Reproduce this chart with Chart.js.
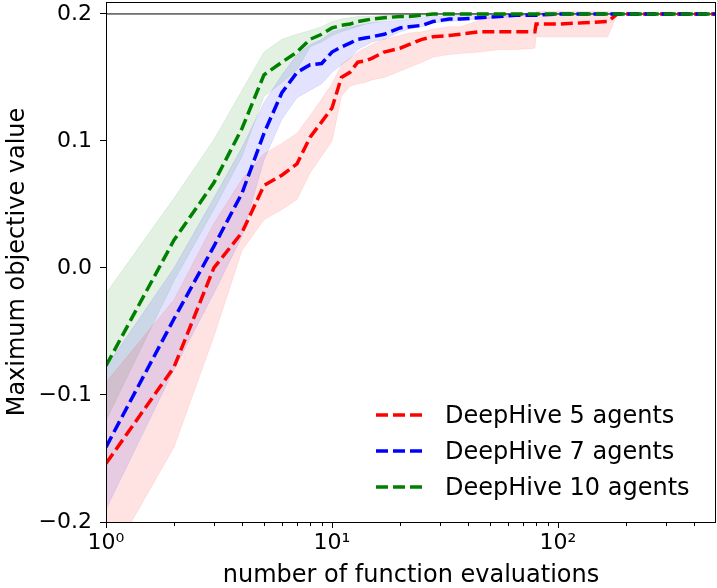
<!DOCTYPE html>
<html>
<head>
<meta charset="utf-8">
<script src="https://cdn.jsdelivr.net/npm/chart.js@4.4.1/dist/chart.umd.min.js"></script>
<style>
  body { margin: 0; background: #fff; }
  #wrap { position: relative; width: 717px; height: 588px; }
  #legend { position: absolute; left: 376px; top: 397px; font-family: "DejaVu Sans"; font-size: 24px; color: #000; }
  .row { height: 36px; display: flex; align-items: center; white-space: nowrap; }
  .row svg { margin-right: 19px; }
</style>
</head>
<body>
<div id="wrap">
  <canvas id="c"></canvas>
  <div id="legend"></div>
</div>
<script>
// number of function evaluations (x, log scale)
const evals = [1, 2, 3, 4, 5, 6, 7, 8, 9, 10, 11, 12, 13, 14, 15, 17, 20, 22, 25, 28, 33, 37, 45, 55, 65, 79, 80, 100, 130, 166, 183, 250, 350, 500];

// DeepHive 5 agents
const red5Mean = [-0.154, -0.078, 0.000, 0.028, 0.065, 0.073, 0.082, 0.103, 0.115, 0.126, 0.150, 0.154, 0.162, 0.163, 0.165, 0.170, 0.173, 0.176, 0.180, 0.182, 0.183, 0.184, 0.186, 0.186, 0.186, 0.186, 0.192, 0.192, 0.193, 0.194, 0.200, 0.200, 0.200, 0.200];
const red5Lo   = [-0.235, -0.141, -0.054, 0.014, 0.038, 0.046, 0.054, 0.075, 0.088, 0.100, 0.135, 0.143, 0.145, 0.146, 0.148, 0.150, 0.155, 0.158, 0.162, 0.166, 0.168, 0.169, 0.170, 0.172, 0.172, 0.173, 0.182, 0.182, 0.182, 0.182, 0.200, 0.200, 0.200, 0.200];
const red5Hi   = [-0.090, -0.025, 0.035, 0.070, 0.090, 0.098, 0.106, 0.120, 0.133, 0.145, 0.160, 0.165, 0.170, 0.173, 0.176, 0.180, 0.183, 0.185, 0.186, 0.188, 0.190, 0.190, 0.195, 0.200, 0.200, 0.200, 0.202, 0.202, 0.202, 0.202, 0.200, 0.200, 0.200, 0.200];

// DeepHive 7 agents
const blue7Mean = [-0.141, -0.040, 0.017, 0.059, 0.106, 0.138, 0.154, 0.160, 0.161, 0.170, 0.174, 0.177, 0.180, 0.181, 0.182, 0.184, 0.189, 0.190, 0.191, 0.194, 0.196, 0.196, 0.197, 0.198, 0.199, 0.199, 0.199, 0.200, 0.200, 0.200, 0.200, 0.200, 0.200, 0.200];
const blue7Lo   = [-0.190, -0.080, -0.020, 0.025, 0.085, 0.117, 0.134, 0.140, 0.145, 0.154, 0.160, 0.165, 0.172, 0.175, 0.178, 0.180, 0.186, 0.188, 0.190, 0.193, 0.194, 0.195, 0.196, 0.197, 0.198, 0.199, 0.199, 0.200, 0.200, 0.200, 0.200, 0.200, 0.200, 0.200];
const blue7Hi   = [-0.078, 0.000, 0.055, 0.095, 0.130, 0.152, 0.168, 0.176, 0.180, 0.186, 0.188, 0.190, 0.191, 0.192, 0.193, 0.194, 0.195, 0.196, 0.197, 0.198, 0.199, 0.199, 0.200, 0.200, 0.200, 0.200, 0.200, 0.200, 0.200, 0.200, 0.200, 0.200, 0.200, 0.200];

// DeepHive 10 agents
const green10Mean = [-0.077, 0.022, 0.067, 0.110, 0.152, 0.162, 0.170, 0.180, 0.184, 0.189, 0.191, 0.192, 0.194, 0.195, 0.196, 0.197, 0.198, 0.198, 0.199, 0.200, 0.200, 0.200, 0.200, 0.200, 0.200, 0.200, 0.200, 0.200, 0.200, 0.200, 0.200, 0.200, 0.200, 0.200];
const green10Lo   = [-0.120, -0.010, 0.046, 0.088, 0.135, 0.146, 0.156, 0.174, 0.178, 0.183, 0.186, 0.188, 0.190, 0.192, 0.193, 0.195, 0.196, 0.197, 0.198, 0.199, 0.200, 0.200, 0.200, 0.200, 0.200, 0.200, 0.200, 0.200, 0.200, 0.200, 0.200, 0.200, 0.200, 0.200];
const green10Hi   = [-0.020, 0.055, 0.101, 0.140, 0.170, 0.180, 0.184, 0.187, 0.190, 0.194, 0.196, 0.197, 0.198, 0.198, 0.198, 0.199, 0.199, 0.200, 0.200, 0.200, 0.200, 0.200, 0.200, 0.200, 0.200, 0.200, 0.200, 0.200, 0.200, 0.200, 0.200, 0.200, 0.200, 0.200];

// known optimum (horizontal reference line)
const optimum = 0.2;

const yTicks = [-0.2, -0.1, 0.0, 0.1, 0.2];
const xMajorTicks = [1, 10, 100];
const xTickLabels = ["10\u2070", "10\u00b9", "10\u00b2"];
const xMinorTicks = [2, 3, 4, 5, 6, 7, 8, 9, 20, 30, 40, 50, 60, 70, 80, 90, 200, 300, 400];

const series = [
  { label: "DeepHive 5 agents", color: "#ff0000", band: "rgba(255,0,0,0.11)", mean: red5Mean, lo: red5Lo, hi: red5Hi, order: 3 },
  { label: "DeepHive 7 agents", color: "#0000ff", band: "rgba(0,0,255,0.11)", mean: blue7Mean, lo: blue7Lo, hi: blue7Hi, order: 2 },
  { label: "DeepHive 10 agents", color: "#008000", band: "rgba(0,128,0,0.11)", mean: green10Mean, lo: green10Lo, hi: green10Hi, order: 1 }
];

function pts(vals) {
  return evals.map((x, i) => ({ x: x, y: vals[i] }));
}

const datasets = [];
series.forEach(s => {
  datasets.push({ data: pts(s.lo), borderWidth: 0.8, borderColor: s.band, pointRadius: 0, fill: false, order: 10 });
  datasets.push({ data: pts(s.hi), borderWidth: 0.8, borderColor: s.band, backgroundColor: s.band, pointRadius: 0, fill: "-1", order: 10 });
});
datasets.push({
  data: [{ x: evals[0], y: optimum }, { x: evals[evals.length - 1], y: optimum }],
  borderColor: "#000", borderWidth: 1, pointRadius: 0, fill: false, order: 5
});
series.forEach(s => {
  datasets.push({ label: s.label, data: pts(s.mean), borderColor: s.color, borderWidth: 3.5, borderDash: [12, 5], pointRadius: 0, fill: false, order: s.order });
});

// frame + minor ticks on the log axis
const framePlugin = {
  id: "frame",
  afterDraw(chart) {
    const ctx = chart.ctx, a = chart.chartArea, sx = chart.scales.x;
    ctx.save();
    ctx.strokeStyle = "#000";
    ctx.lineWidth = 1;
    ctx.strokeRect(a.left + 0.5, a.top + 0.5, a.right - a.left - 1, a.bottom - a.top);
    xMinorTicks.forEach(v => {
      const px = Math.round(sx.getPixelForValue(v)) + 0.5;
      ctx.beginPath();
      ctx.moveTo(px, a.bottom);
      ctx.lineTo(px, a.bottom + 4);
      ctx.stroke();
    });
    ctx.restore();
  }
};

const font = { family: "DejaVu Sans", size: 22 };

new Chart(document.getElementById("c"), {
  type: "line",
  data: { datasets: datasets },
  plugins: [framePlugin],
  options: {
    responsive: true,
    maintainAspectRatio: false,
    animation: false,
    layout: { padding: { top: 2, right: 1, left: 0, bottom: 0 } },
    plugins: { legend: { display: false }, tooltip: { enabled: false } },
    scales: {
      x: {
        type: "logarithmic",
        min: 1,
        max: 500,
        afterBuildTicks: scale => { scale.ticks = xMajorTicks.map(v => ({ value: v })); },
        afterFit: scale => { scale.height = 66; scale.paddingLeft = 0; scale.paddingRight = 0; },
        grid: { display: true, drawOnChartArea: false, drawTicks: true, tickLength: 6, tickColor: "#000" },
        border: { display: false },
        ticks: {
          autoSkip: false, maxRotation: 0, padding: 2, color: "#000", font: font,
          callback: v => xTickLabels[xMajorTicks.indexOf(v)]
        },
        title: { display: true, text: "number of function evaluations", color: "#000", font: { family: "DejaVu Sans", size: 24, lineHeight: 1 }, padding: 0 }
      },
      y: {
        type: "linear",
        min: -0.2,
        max: 0.2094,
        afterBuildTicks: scale => { scale.ticks = yTicks.map(v => ({ value: v })); },
        afterFit: scale => { scale.width = 106; scale.paddingTop = 0; scale.paddingBottom = 0; },
        grid: { display: true, drawOnChartArea: false, drawTicks: true, tickLength: 6, tickColor: "#000" },
        border: { display: false },
        ticks: {
          padding: 8, color: "#000", font: font,
          callback: v => v.toFixed(1).replace("-", "\u2212")
        },
        title: { display: true, text: "Maximum objective value", color: "#000", font: { family: "DejaVu Sans", size: 24 }, padding: { top: 3, bottom: 0 } }
      }
    }
  }
});

// legend inside the plot, lower right
const legend = document.getElementById("legend");
series.forEach(s => {
  const row = document.createElement("div");
  row.className = "row";
  row.innerHTML = '<svg width="50" height="6"><line x1="0" y1="3" x2="50" y2="3" stroke="' + s.color +
    '" stroke-width="3.5" stroke-dasharray="12 5"/></svg><span>' + s.label + '</span>';
  legend.appendChild(row);
});
</script>
</body>
</html>
